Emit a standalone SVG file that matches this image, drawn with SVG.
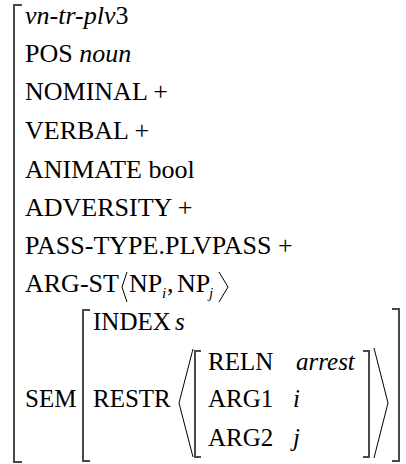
<svg xmlns="http://www.w3.org/2000/svg" width="406" height="464" viewBox="0 0 406 464">
<style>
text{font-family:"Times New Roman","Liberation Serif",serif;font-size:26px;fill:#000}
.sm{font-size:25px}
.it{font-style:italic}
.sub{font-size:15px;font-style:italic}
.br{fill:none;stroke:#4a4a4a;stroke-width:2}
.ang{fill:none;stroke:#000;stroke-width:1}
</style>
<rect width="406" height="464" fill="#fff"/>
<g id="outer">
<path class="br" d="M22,5 H14 V462 H22"/>
<text x="25" y="24"><tspan class="it">vn-tr-plv</tspan>3</text>
<text x="25" y="62">POS <tspan class="it">noun</tspan></text>
<text x="25" y="100">NOMINAL +</text>
<text x="25" y="139">VERBAL +</text>
<text x="25" y="178">ANIMATE bool</text>
<text x="25" y="216">ADVERSITY +</text>
<text x="25" y="254">PASS-TYPE.PLVPASS +</text>
<text x="25" y="292">ARG-ST</text>
</g>
<g id="argst">
<path class="ang" d="M127,272 L122,287 L127,302"/>
<text x="129" y="292">NP</text>
<text class="sub" x="162" y="298">i</text>
<text x="167" y="292">,</text>
<text x="177" y="292">NP</text>
<text class="sub" x="209" y="298">j</text>
<path class="ang" d="M219,272 L228,287 L219,302"/>
</g>
<g id="sem">
<text class="sm" x="25" y="407">SEM</text>
<path class="br" d="M90,310 H83 V461 H90"/>
<path class="br" d="M392,309 H399 V461 H392"/>
<text class="sm" x="93" y="330">INDEX</text>
<text class="sm it" x="175" y="330">s</text>
<text class="sm" x="93" y="407">RESTR</text>
</g>
<g id="restr">
<path class="ang" d="M193,349 L179,403 L193,457"/>
<path class="br" d="M201,351 H195 V457 H201"/>
<text class="sm" x="208" y="370">RELN</text>
<text class="sm it" x="296" y="370">arrest</text>
<text class="sm" x="208" y="407">ARG1</text>
<text class="sm it" x="293" y="407">i</text>
<text class="sm" x="208" y="446">ARG2</text>
<text class="sm it" x="293" y="446">j</text>
<path class="br" d="M363,351 H369 V457 H363"/>
<path class="ang" d="M374,348 L388,403 L374,458"/>
</g>
</svg>
